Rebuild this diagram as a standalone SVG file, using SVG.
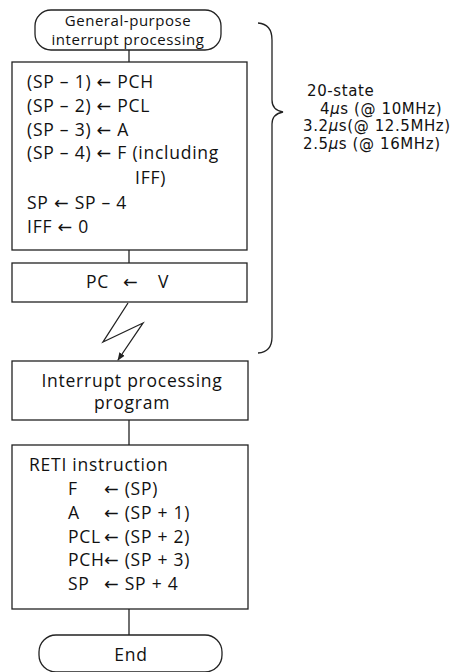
<svg xmlns="http://www.w3.org/2000/svg" width="466" height="672" viewBox="0 0 466 672">
<style>
.shape{fill:#fff;stroke:#222;stroke-width:1.3}
.line{fill:none;stroke:#222;stroke-width:1.3}
text{font-family:"Open Sans","DejaVu Sans",sans-serif;fill:#111}
.t{font-size:17.5px;letter-spacing:0.75px}
.s{font-size:15px;letter-spacing:0.55px}
.r{font-family:"DejaVu Sans",sans-serif;font-size:15px;letter-spacing:0.6px}
.mu{font-style:italic}
</style>
<defs>
<marker id="ah" viewBox="0 0 10 10" refX="9" refY="5" markerWidth="8" markerHeight="8" orient="auto" markerUnits="userSpaceOnUse">
<path d="M0,1 L10,5 L0,9 z" fill="#222"/>
</marker>
</defs>
<rect width="466" height="672" fill="#fff"/>
<g id="connectors">
<line class="line" x1="129" y1="50" x2="129" y2="62"/>
<line class="line" x1="129" y1="250" x2="129" y2="263"/>
<polyline class="line" points="128,303 103,342 143,323 118,360" marker-end="url(#ah)"/>
<line class="line" x1="129" y1="420" x2="129" y2="445"/>
<line class="line" x1="129" y1="609" x2="129" y2="635"/>
</g>
<g id="start">
<rect class="shape" x="35" y="10" width="186" height="40" rx="16"/>
<text class="s" x="128" y="25.5" text-anchor="middle">General-purpose</text>
<text class="s" x="128" y="45" text-anchor="middle">interrupt processing</text>
</g>
<g id="push">
<rect class="shape" x="12" y="62" width="235" height="188"/>
<text class="t" x="27" y="88">(SP – 1) ← PCH</text>
<text class="t" x="27" y="112">(SP – 2) ← PCL</text>
<text class="t" x="27" y="136">(SP – 3) ← A</text>
<text class="t" x="27" y="159">(SP – 4) ← F (including</text>
<text class="t" x="135" y="184">IFF)</text>
<text class="t" x="27" y="209">SP ← SP – 4</text>
<text class="t" x="27" y="233">IFF ← 0</text>
</g>
<g id="vector">
<rect class="shape" x="12" y="263" width="235" height="39"/>
<text class="t" y="288"><tspan x="86">PC</tspan><tspan x="123">←</tspan><tspan x="158">V</tspan></text>
</g>
<g id="program">
<rect class="shape" x="12" y="361" width="236" height="59"/>
<text class="t" x="132" y="387" text-anchor="middle">Interrupt processing</text>
<text class="t" x="132" y="409" text-anchor="middle">program</text>
</g>
<g id="reti">
<rect class="shape" x="12" y="445" width="236" height="164"/>
<text class="t" x="29" y="471">RETI instruction</text>
<text class="t" x="68" y="495">F</text>
<text class="t" x="68" y="519">A</text>
<text class="t" x="68" y="543">PCL</text>
<text class="t" x="68" y="566">PCH</text>
<text class="t" x="68" y="590">SP</text>
<text class="t" x="104" y="495">← (SP)</text>
<text class="t" x="104" y="519">← (SP + 1)</text>
<text class="t" x="104" y="543">← (SP + 2)</text>
<text class="t" x="104" y="566">← (SP + 3)</text>
<text class="t" x="104" y="590">← SP + 4</text>
</g>
<g id="end">
<rect class="shape" x="39" y="635" width="183" height="37" rx="17"/>
<text class="t" x="131" y="661" text-anchor="middle">End</text>
</g>
<g id="timing">
<path class="line" d="M258,23 Q272,24 272,40 L272,100 Q272,110 283,112 Q272,114 272,124 L272,337 Q272,352 258,353"/>
<text class="r" x="307" y="96">20-state</text>
<text class="r" x="320" y="113.5">4<tspan class="mu">μ</tspan>s (@ 10MHz)</text>
<text class="r" x="303" y="131">3.2<tspan class="mu">μ</tspan>s(@ 12.5MHz)</text>
<text class="r" x="303" y="148.5">2.5<tspan class="mu">μ</tspan>s (@ 16MHz)</text>
</g>
</svg>
